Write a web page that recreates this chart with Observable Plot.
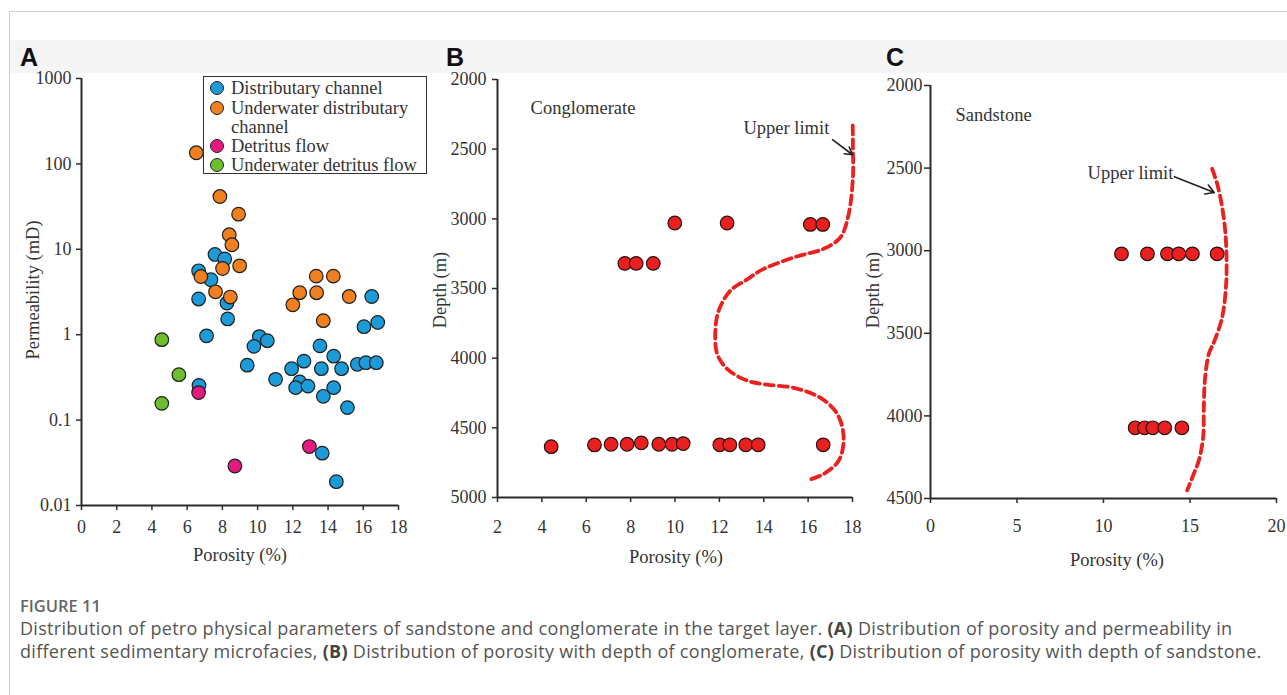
<!DOCTYPE html>
<html><head><meta charset="utf-8">
<script src="https://cdn.jsdelivr.net/npm/d3@7"></script>
<script src="https://cdn.jsdelivr.net/npm/@observablehq/plot@0.6"></script>
<style>
html,body{margin:0;padding:0;background:#fff;}
body{width:1287px;height:695px;overflow:hidden;position:relative;font-family:"Liberation Serif",serif;color:#333;}
.abs{position:absolute;}
.plot{position:absolute;}
.panel{position:absolute;font-family:"Liberation Sans",Arial,sans-serif;font-weight:bold;font-size:25px;color:#111;line-height:1;}
.title{position:absolute;white-space:nowrap;font-size:18.5px;color:#333;line-height:1;transform:translate(-50%,-50%);}
.ytitle{transform:translate(-50%,-50%) rotate(-90deg);}
#legend{position:absolute;left:203px;top:76px;width:222px;height:96px;border:1.5px solid #333;background:#fff;font-size:18.5px;color:#333;}
.li{position:absolute;left:27px;line-height:1;white-space:nowrap;transform:translateY(-50%);}
.sw{position:absolute;left:6px;width:12px;height:12px;border-radius:50%;border:1px solid #222;transform:translateY(-50%);}
#caption{position:absolute;left:20px;top:594px;width:1265px;font-family:"Open Sans",sans-serif;color:#555;font-size:18px;letter-spacing:0.3px;line-height:23px;white-space:nowrap;}
#caption .fig{font-size:16.5px;letter-spacing:0;font-weight:600;color:#666;}
#caption b{font-weight:700;color:#444;}
</style></head><body>
<div class="abs" style="left:9px;top:11px;width:1290px;height:700px;border-top:1px solid #d0d0d0;border-left:1px solid #d0d0d0;"></div>
<div class="abs" style="left:10px;top:40px;width:1277px;height:33px;background:#f5f5f5;"></div>
<div class="panel" style="left:20px;top:45px;">A</div>
<div class="panel" style="left:446px;top:45px;">B</div>
<div class="panel" style="left:886px;top:45px;">C</div>
<div id="plots"></div>
<div id="caption"></div>
<script>
// ---------- Panel A data ----------
const faciesNames = ["Distributary channel", "Underwater distributary channel", "Detritus flow", "Underwater detritus flow"];
const faciesColors = ["#1b9bd7", "#f0801f", "#e5197f", "#6dbd2c"];
const dcPorosity = [7.58, 8.13, 6.65, 7.35, 6.65, 8.26, 8.3, 7.1, 16.48, 16.04, 16.82, 10.1, 10.55, 9.79, 9.41, 11.02, 13.54, 12.63, 11.93, 13.62, 14.32, 14.77, 15.66, 16.15, 16.74, 12.39, 12.16, 12.86, 14.32, 13.73, 15.1, 6.67, 13.67, 14.47];
const dcPerm     = [8.7, 7.7, 5.6, 4.4, 2.62, 2.35, 1.53, 0.97, 2.8, 1.24, 1.39, 0.95, 0.85, 0.73, 0.44, 0.30, 0.74, 0.49, 0.40, 0.40, 0.56, 0.40, 0.45, 0.47, 0.47, 0.28, 0.24, 0.25, 0.24, 0.19, 0.14, 0.255, 0.041, 0.019];
const udcPorosity = [6.52, 7.86, 8.92, 8.39, 8.54, 8.98, 8.01, 6.78, 7.61, 8.45, 13.33, 14.3, 12.39, 13.35, 15.2, 12.0, 13.73];
const udcPerm     = [135, 41.5, 25.8, 14.8, 11.3, 6.4, 5.96, 4.8, 3.18, 2.76, 4.85, 4.85, 3.1, 3.1, 2.8, 2.24, 1.46];
const dfPorosity = [6.65, 8.71, 12.94];
const dfPerm     = [0.21, 0.029, 0.049];
const udfPorosity = [4.56, 5.53, 4.56];
const udfPerm     = [0.875, 0.34, 0.157];
const ticksA_x = [0, 2, 4, 6, 8, 10, 12, 14, 16, 18];
const ticksA_y = [0.01, 0.1, 1, 10, 100, 1000];
const tickLabelsA_y = ["0.01", "0.1", "1", "10", "100", "1000"];

// ---------- Panel B data (conglomerate) ----------
const conglPorosity = [9.99, 12.35, 16.1, 16.66, 7.74, 8.25, 9.02, 4.42, 6.37, 7.12, 7.84, 8.48, 9.27, 9.87, 10.37, 12.02, 12.47, 13.19, 13.75, 16.68];
const conglDepth    = [3030, 3030, 3040, 3040, 3320, 3320, 3320, 4635, 4623, 4618, 4618, 4608, 4618, 4618, 4613, 4622, 4622, 4622, 4622, 4622];
const conglLimitPorosity = [18.01, 18.02, 18.02, 17.83, 17.46, 16.7, 15.5, 14.0, 13.2, 12.5, 11.97, 11.82, 11.9, 12.35, 13.25, 14.15, 15.35, 16.56, 17.31, 17.6, 17.38, 16.7, 16.03];
const conglLimitDepth    = [2330, 2500, 2700, 2964, 3132, 3215, 3270, 3359, 3440, 3515, 3658, 3802, 3969, 4077, 4161, 4190, 4213, 4285, 4400, 4568, 4735, 4831, 4874];
const ticksB_x = [2, 4, 6, 8, 10, 12, 14, 16, 18];
const ticksB_y = [2000, 2500, 3000, 3500, 4000, 4500, 5000];

// ---------- Panel C data (sandstone) ----------
const sandPorosity = [11.04, 12.54, 13.70, 14.35, 15.14, 16.57, 11.83, 12.37, 12.85, 13.54, 14.53];
const sandDepth    = [3019, 3019, 3019, 3019, 3019, 3019, 4072, 4072, 4072, 4072, 4072];
const sandLimitPorosity = [16.28, 16.57, 16.86, 17.05, 17.11, 17.09, 16.86, 16.42, 16.09, 15.86, 15.80, 15.76, 15.51, 15.22, 14.84];
const sandLimitDepth    = [2504, 2595, 2737, 2898, 3039, 3200, 3402, 3544, 3624, 3786, 3947, 4129, 4270, 4350, 4451];
const ticksC_x = [0, 5, 10, 15, 20];
const ticksC_y = [2000, 2500, 3000, 3500, 4000, 4500];

// annotations
const conglLabel = {x: 3.49, y: 2208, text: "Conglomerate"};
const conglUpper = {x: 15.02, y: 2352, text: "Upper limit", ax1: 17.1, ay1: 2432, ax2: 18.0, ay2: 2540};
const sandLabel = {x: 1.45, y: 2182, text: "Sandstone"};
const sandUpper = {x: 11.56, y: 2533, text: "Upper limit", ax1: 14.1, ay1: 2552, ax2: 16.4, ay2: 2648};

const axisColor = "#2b2b2b";
const dotRed = "#ea2020";
const dotR = 6.8;
const baseStyle = {fontFamily: '"Liberation Serif", serif', fontSize: "18px", color: "#333", background: "transparent", overflow: "visible", maxWidth: "none"};

function pts(xs, ys, extra = {}) { return xs.map((x, i) => ({x, y: ys[i], ...extra})); }

const container = document.getElementById("plots");
function place(svg, left, top) {
  svg.classList.add("plot");
  svg.style.left = left + "px";
  svg.style.top = top + "px";
  container.appendChild(svg);
}

// ---------- Panel A ----------
const seriesA = [
  pts(dcPorosity, dcPerm, {c: 0}),
  pts(udcPorosity, udcPerm, {c: 1}),
  pts(dfPorosity, dfPerm, {c: 2}),
  pts(udfPorosity, udfPerm, {c: 3})
];
const plotA = Plot.plot({
  width: 400, height: 520,
  marginLeft: 61, marginRight: 22, marginTop: 18, marginBottom: 75,
  style: baseStyle,
  x: {domain: [0, 18]},
  y: {type: "log", domain: [0.01, 1000]},
  marks: [
    Plot.axisX({ticks: ticksA_x, tickSize: 5, tickPadding: 10, label: null, stroke: axisColor, strokeWidth: 1.5, fontSize: 18}),
    Plot.axisY({ticks: ticksA_y, tickFormat: d => tickLabelsA_y[ticksA_y.indexOf(d)], tickSize: 5, tickPadding: 5, label: null, stroke: axisColor, strokeWidth: 1.5, fontSize: 18}),
    Plot.ruleY([0.01], {stroke: axisColor, strokeWidth: 2}),
    Plot.ruleX([0], {stroke: axisColor, strokeWidth: 2}),
    ...seriesA.map(s => Plot.dot(s, {x: "x", y: "y", r: dotR, fill: d => faciesColors[d.c], stroke: "#1e1e1e", strokeWidth: 1.2}))
  ]
});
place(plotA, 20, 60);

// ---------- Panel B ----------
const plotB = Plot.plot({
  width: 440, height: 520,
  marginLeft: 62, marginRight: 23, marginTop: 19, marginBottom: 83,
  style: baseStyle,
  x: {domain: [2, 18]},
  y: {domain: [2000, 5000], reverse: true},
  marks: [
    Plot.axisX({ticks: ticksB_x, tickSize: 5, tickPadding: 18, label: null, stroke: axisColor, strokeWidth: 1.5, fontSize: 18}),
    Plot.axisY({ticks: ticksB_y, tickFormat: d => String(d), tickSize: 5, tickPadding: 6, label: null, stroke: axisColor, strokeWidth: 1.5, fontSize: 18}),
    Plot.ruleY([5000], {stroke: axisColor, strokeWidth: 2}),
    Plot.ruleX([2], {stroke: axisColor, strokeWidth: 2}),
    Plot.line(pts(conglLimitPorosity, conglLimitDepth), {x: "x", y: "y", stroke: "#e8221e", strokeWidth: 3.8, strokeDasharray: "9,5", curve: "catmull-rom"}),
    Plot.text([conglLabel], {x: "x", y: "y", text: "text", textAnchor: "start", fontSize: 18.5, fill: "#333"}),
    Plot.text([conglUpper], {x: "x", y: "y", text: "text", textAnchor: "middle", fontSize: 18.5, fill: "#333"}),
    Plot.arrow([conglUpper], {x1: "ax1", y1: "ay1", x2: "ax2", y2: "ay2", stroke: "#222", strokeWidth: 1.6, headLength: 9}),
    Plot.dot(pts(conglPorosity, conglDepth), {x: "x", y: "y", r: dotR, fill: dotRed, stroke: "#2a1010", strokeWidth: 1.2})
  ]
});
place(plotB, 435, 60);

// ---------- Panel C ----------
const plotC = Plot.plot({
  width: 419, height: 520,
  marginLeft: 62, marginRight: 11, marginTop: 25, marginBottom: 82,
  style: baseStyle,
  x: {domain: [0, 20]},
  y: {domain: [2000, 4500], reverse: true},
  marks: [
    Plot.axisX({ticks: ticksC_x, tickSize: 5, tickPadding: 16, label: null, stroke: axisColor, strokeWidth: 1.5, fontSize: 18}),
    Plot.axisY({ticks: ticksC_y, tickFormat: d => String(d), tickSize: 6, tickPadding: 2, label: null, stroke: axisColor, strokeWidth: 1.5, fontSize: 18}),
    Plot.ruleY([4500], {stroke: axisColor, strokeWidth: 2}),
    Plot.ruleX([0], {stroke: axisColor, strokeWidth: 2}),
    Plot.line(pts(sandLimitPorosity, sandLimitDepth), {x: "x", y: "y", stroke: "#e8221e", strokeWidth: 3.8, strokeDasharray: "9,5", curve: "catmull-rom"}),
    Plot.text([sandLabel], {x: "x", y: "y", text: "text", textAnchor: "start", fontSize: 18.5, fill: "#333"}),
    Plot.text([sandUpper], {x: "x", y: "y", text: "text", textAnchor: "middle", fontSize: 18.5, fill: "#333"}),
    Plot.arrow([sandUpper], {x1: "ax1", y1: "ay1", x2: "ax2", y2: "ay2", stroke: "#222", strokeWidth: 1.6, headLength: 9}),
    Plot.dot(pts(sandPorosity, sandDepth), {x: "x", y: "y", r: dotR, fill: dotRed, stroke: "#2a1010", strokeWidth: 1.2})
  ]
});
place(plotC, 868, 60);

// ---------- Axis titles ----------
const titles = [
  {t: "Permeability (mD)", x: 33, y: 290, rot: true},
  {t: "Porosity (%)", x: 240, y: 555, rot: false},
  {t: "Depth (m)", x: 440, y: 290, rot: true},
  {t: "Porosity (%)", x: 676, y: 557, rot: false},
  {t: "Depth (m)", x: 873, y: 290, rot: true},
  {t: "Porosity (%)", x: 1117, y: 560, rot: false}
];
for (const tt of titles) {
  const d = document.createElement("div");
  d.className = "title" + (tt.rot ? " ytitle" : "");
  d.style.left = tt.x + "px";
  d.style.top = tt.y + "px";
  d.textContent = tt.t;
  document.body.appendChild(d);
}

// ---------- Legend (panel A) ----------
const legend = document.createElement("div");
legend.id = "legend";
const legendRows = [
  {c: 0, lines: [faciesNames[0]], y: 11},
  {c: 1, lines: ["Underwater distributary", "channel"], y: 31},
  {c: 2, lines: [faciesNames[2]], y: 69},
  {c: 3, lines: [faciesNames[3]], y: 88}
];
legendRows.forEach(r => {
  const sw = document.createElement("div");
  sw.className = "sw";
  sw.style.top = r.y + "px";
  sw.style.background = faciesColors[r.c];
  legend.appendChild(sw);
  r.lines.forEach((ln, j) => {
    const t = document.createElement("div");
    t.className = "li";
    t.style.top = (r.y + j * 19) + "px";
    t.textContent = ln;
    legend.appendChild(t);
  });
});
document.body.appendChild(legend);

// ---------- Caption ----------
document.getElementById("caption").innerHTML =
  '<div class="fig">FIGURE 11</div>' +
  'Distribution of petro physical parameters of sandstone and conglomerate in the target layer. <b>(A)</b> Distribution of porosity and permeability in<br>' +
  'different sedimentary microfacies, <b>(B)</b> Distribution of porosity with depth of conglomerate, <b>(C)</b> Distribution of porosity with depth of sandstone.';
</script>
</body></html>
